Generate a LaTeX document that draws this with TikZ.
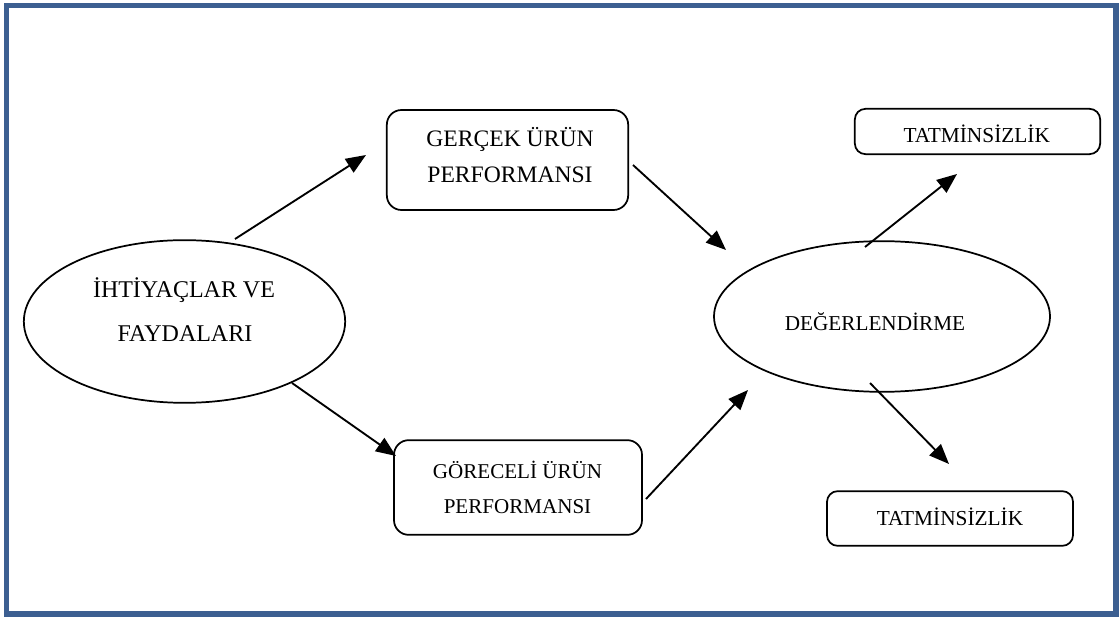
\documentclass[tikz,border=0pt]{standalone}
\usepackage{fontspec}
\setmainfont{Liberation Serif}
\usetikzlibrary{arrows.meta,shapes.geometric}
\definecolor{framecol}{RGB}{60,95,145}
\tikzset{
  ovalbox/.style={draw, line width=1.3pt, ellipse, inner sep=0pt},
  roundbox/.style={draw, line width=1.3pt, rectangle, rounded corners=11pt, inner sep=0pt},
  smallbox/.style={draw, line width=1.3pt, rectangle, rounded corners=8pt, inner sep=0pt},
  caption/.style={anchor=base, inner sep=0pt},
  flow/.style={line width=1.4pt, -{Triangle[length=15pt, width=12pt]}}
}
\begin{document}
\begin{tikzpicture}[x=0.75pt, y=-0.75pt]
\useasboundingbox (0,0) rectangle (1120,623);
% outer frame
\draw[framecol, line width=3.8pt] (6.5,5.5) rectangle (1116,614);

% needs and benefits
\node[ovalbox, minimum width=241pt, minimum height=122pt] (needs) at (184.5,321.5) {};
\node[caption, font=\fontsize{18}{22}\selectfont] (needsA) at (184,298) {İHTİYAÇLAR VE};
\node[caption, font=\fontsize{18}{22}\selectfont] (needsB) at (185,342) {FAYDALARI};

% actual product performance
\node[roundbox, minimum width=181pt, minimum height=75pt] (actual) at (507.5,160) {};
\node[caption, font=\fontsize{17.7}{22}\selectfont] (actualA) at (510,146.7) {GERÇEK ÜRÜN};
\node[caption, font=\fontsize{17.7}{22}\selectfont] (actualB) at (510,183) {PERFORMANSI};

% relative product performance
\node[roundbox, minimum width=186pt, minimum height=71pt] (relative) at (518,487.5) {};
\node[caption, font=\fontsize{15.8}{19}\selectfont] (relativeA) at (517.5,478) {GÖRECELİ ÜRÜN};
\node[caption, font=\fontsize{15.8}{19}\selectfont] (relativeB) at (517.5,513) {PERFORMANSI};

% evaluation
\node[ovalbox, minimum width=252pt, minimum height=113pt] (eval) at (882,316.5) {};
\node[caption, font=\fontsize{15.9}{19}\selectfont] (evaltext) at (875,331) {DEĞERLENDİRME};

% outcomes
\node[smallbox, minimum width=184pt, minimum height=34pt] (dissatA) at (977.5,131.5) {};
\node[caption, font=\fontsize{16}{19}\selectfont] (dissatAtext) at (976.7,143) {TATMİNSİZLİK};
\node[smallbox, minimum width=184.5pt, minimum height=41pt] (dissatB) at (950,518.5) {};
\node[caption, font=\fontsize{16}{19}\selectfont] (dissatBtext) at (950,525) {TATMİNSİZLİK};

% connector ends
\coordinate (a1) at (235,239);   \coordinate (a1t) at (366,155);
\coordinate (a2) at (292,383);   \coordinate (a2t) at (396,456);
\coordinate (a3) at (633,165);   \coordinate (a3t) at (726,250);
\coordinate (a4) at (646,499);   \coordinate (a4t) at (748,390);
\coordinate (a5) at (865,247);   \coordinate (a5t) at (957,174);
\coordinate (a6) at (870,383);   \coordinate (a6t) at (949,464);

\draw[flow] (a1) -- (a1t);
\draw[flow] (a2) -- (a2t);
\draw[flow] (a3) -- (a3t);
\draw[flow] (a4) -- (a4t);
\draw[flow] (a5) -- (a5t);
\draw[flow] (a6) -- (a6t);
\end{tikzpicture}
\end{document}
